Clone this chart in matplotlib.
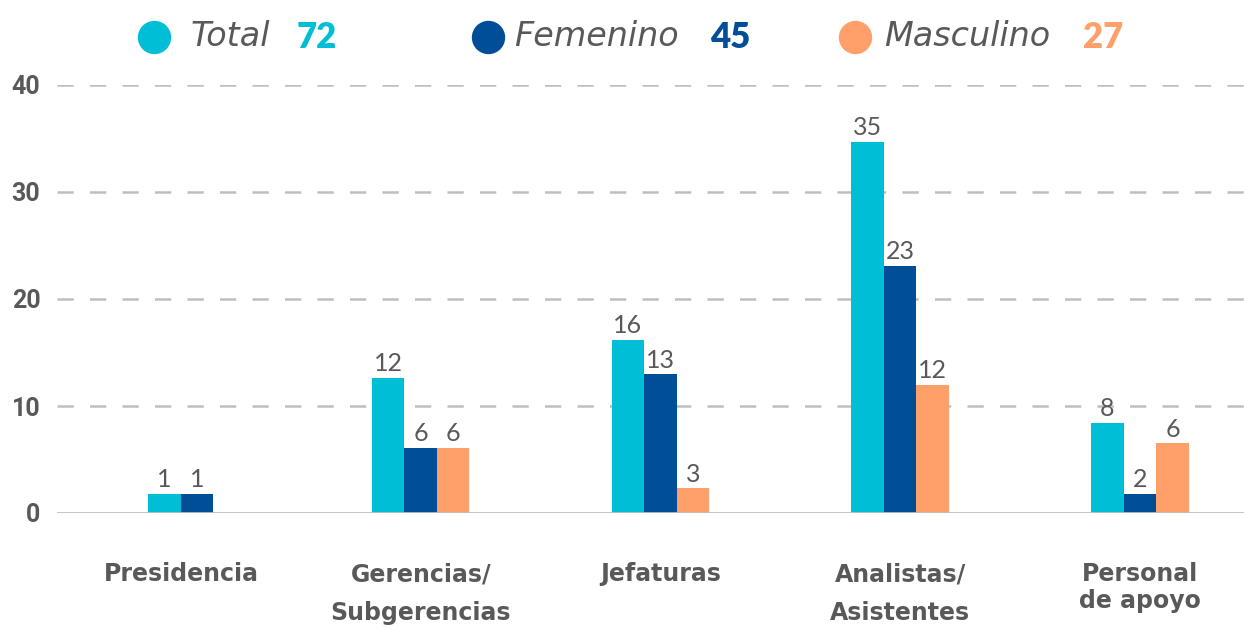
import matplotlib
matplotlib.use("Agg")
import matplotlib.pyplot as plt
from matplotlib.lines import Line2D
from matplotlib.transforms import blended_transform_factory
import numpy as np

# categorias (eje x)
categories = ["Presidencia", "Gerencias/\nSubgerencias", "Jefaturas",
              "Analistas/\nAsistentes", "Personal\nde apoyo"]

# etiquetas que muestra el grafico
total_labels = [1, 12, 16, 35, 8]
fem_labels = [1, 6, 13, 23, 2]
masc_labels = [None, 6, 3, 12, 6]

# alto de las barras tal como se ven en la imagen
total_heights = [1.8, 12.65, 16.2, 34.7, 8.45]
fem_heights = [1.8, 6.1, 12.95, 23.1, 1.8]
masc_heights = [None, 6.1, 2.3, 12.0, 6.5]

# leyenda
series_names = ["Total", "Femenino", "Masculino"]
series_totals = [72, 45, 27]

yticks = [0, 10, 20, 30, 40]

colors = ["#00BED6", "#004E98", "#FFA06A"]
grey = "#595959"
grid_grey = "#BFBFBF"

W, H = 1244, 630
fig = plt.figure(figsize=(W / 100, H / 100), dpi=100)
ax = fig.add_axes([57 / W, 1 - 513 / H, 1 - 57 / W, (513 - 85) / H])

heights = [total_heights, fem_heights, masc_heights]
labels = [total_labels, fem_labels, masc_labels]
bar_w = 0.1356
x = np.arange(len(categories))

for i, cx in enumerate(x):
    # solo las series con dato en esta categoria, centradas
    present = [s for s in range(3) if heights[s][i] is not None]
    n = len(present)
    for k, s in enumerate(present):
        xpos = cx + (k - (n - 1) / 2) * bar_w
        ax.bar(xpos, heights[s][i], width=bar_w, color=colors[s], zorder=3)
        ax.annotate(str(labels[s][i]), (xpos, heights[s][i]),
                    xytext=(0, 2), textcoords="offset points",
                    ha="center", va="bottom", fontsize=18,
                    family="Lato", color=grey, zorder=4)

ax.set_xlim(-0.517, 4.434)
ax.set_ylim(0, 40)
ax.set_yticks(yticks)
ax.set_yticklabels([str(t) for t in yticks], family="Roboto",
                   weight="bold", fontsize=18, color=grey)
ax.tick_params(axis="y", length=0, pad=12)
ax.set_xticks([])

for t in yticks[1:]:
    ax.axhline(t, color=grid_grey, lw=1.8, ls=(0, (6.5, 6.5)), zorder=1)
ax.axhline(0, color=grid_grey, lw=2, zorder=5)
for sp in ax.spines.values():
    sp.set_visible(False)

# nombres de categorias debajo del eje
tr = blended_transform_factory(ax.transData, fig.transFigure)
line_sp = {"Personal\nde apoyo": 1.15}
for cx, cat in zip(x, categories):
    ax.text(cx, 1 - 562 / H, cat, transform=tr,
            ha="center", va="top", multialignment="center",
            fontsize=17, family="DejaVu Sans", weight="bold", color=grey,
            linespacing=line_sp.get(cat, 1.8))

# leyenda con circulos y totales
dot_x = [154, 488, 855]
name_x = [191, 514, 884]
num_x = [297, 710, 1083]
ly = 1 - 37 / H
for s in range(3):
    fig.add_artist(Line2D([dot_x[s] / W], [ly], marker="o", ms=23, color=colors[s],
                          transform=fig.transFigure, lw=0))
    fig.text(name_x[s] / W, ly, series_names[s], ha="left", va="center",
             fontsize=24, family="DejaVu Sans", style="italic", color=grey)
    fig.text(num_x[s] / W, ly, str(series_totals[s]), ha="left", va="center",
             fontsize=25, family="Lato", weight="heavy", color=colors[s])

fig.savefig("out.png", dpi=100)
